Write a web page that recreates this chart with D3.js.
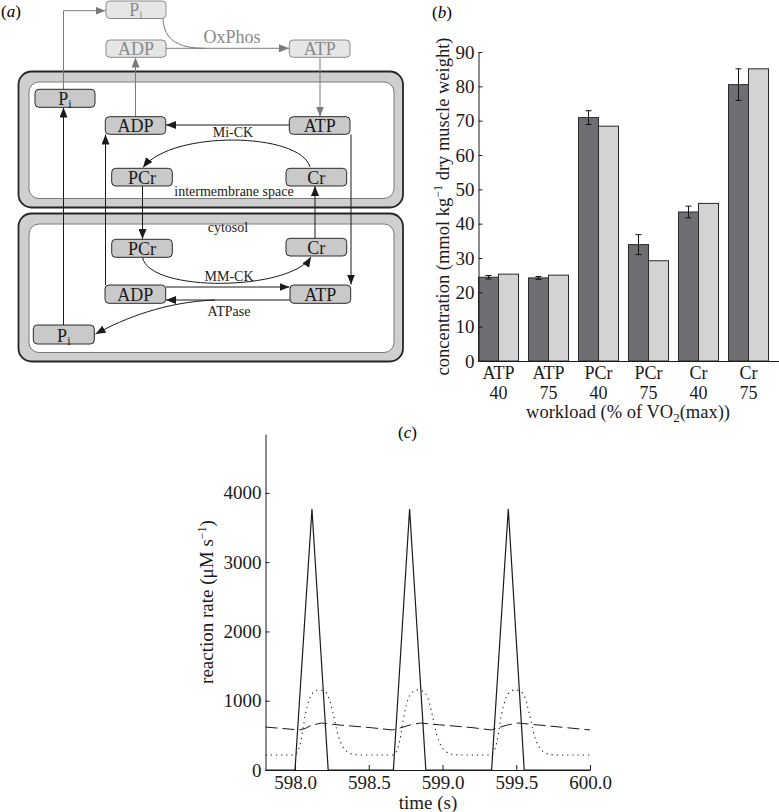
<!DOCTYPE html>
<html>
<head>
<meta charset="utf-8">
<script src="https://cdn.jsdelivr.net/npm/d3@7/dist/d3.min.js"></script>
<style>
  body { margin: 0; background: #fff; }
  svg text { font-family: "Liberation Serif", "Times New Roman", serif; }
</style>
</head>
<body>
<svg id="fig" width="779" height="812"></svg>
<script>
// ---- panel (b): metabolite concentrations ----
const metabolites = ["ATP", "ATP", "PCr", "PCr", "Cr", "Cr"];
const workloads = ["40", "75", "40", "75", "40", "75"];
const measured = [24.4, 24.2, 70.9, 33.9, 43.4, 80.5];
const measuredErr = [0.5, 0.4, 2.0, 2.9, 1.7, 4.6];
const model = [25.3, 25.0, 68.4, 29.2, 45.9, 85.1];
const concTicks = [0, 10, 20, 30, 40, 50, 60, 70, 80, 90];

// ---- panel (c): reaction rates over time ----
const timeTicks = [598.0, 598.5, 599.0, 599.5, 600.0];
const rateTicks = [0, 1000, 2000, 3000, 4000];
const solidTime = [597.8, 598.0, 598.115, 598.225, 598.667, 598.777, 598.887, 599.333, 599.446, 599.554, 600.0];
const solidRate = [0, 0, 3767, 0, 0, 3767, 0, 0, 3767, 0, 0];
const dottedTime = [597.8, 597.99, 598.01, 598.04, 598.07, 598.10, 598.13, 598.16, 598.20, 598.23, 598.26, 598.29, 598.32, 598.35, 598.40, 598.45,
  598.66, 598.68, 598.71, 598.74, 598.77, 598.80, 598.83, 598.87, 598.90, 598.93, 598.96, 598.99, 599.02, 599.07, 599.12,
  599.32, 599.34, 599.37, 599.40, 599.43, 599.46, 599.49, 599.53, 599.56, 599.59, 599.62, 599.65, 599.68, 599.73, 599.78, 600.0];
const dottedRate = [217, 217, 240, 420, 800, 1040, 1130, 1156, 1135, 1040, 800, 520, 350, 270, 225, 217,
  217, 240, 420, 800, 1040, 1130, 1156, 1135, 1040, 800, 520, 350, 270, 225, 217,
  217, 240, 420, 800, 1040, 1130, 1156, 1135, 1040, 800, 520, 350, 270, 225, 217, 217];
const dashedTime = [597.8, 598.03, 598.07, 598.11, 598.18, 598.30, 598.51, 598.66, 598.71, 598.78, 598.85, 598.98, 599.20, 599.33, 599.37, 599.44, 599.51, 599.66, 600.0];
const dashedRate = [620, 578, 600, 645, 678, 650, 612, 578, 605, 650, 678, 652, 612, 578, 605, 650, 678, 648, 578];

const svg = d3.select("#fig");
const defs = svg.append("defs");
const serif = "Liberation Serif, Times New Roman, serif";

function arrowMarker(id, color) {
  defs.append("marker")
    .attr("id", id)
    .attr("viewBox", "0 0 10 8")
    .attr("refX", 10).attr("refY", 4)
    .attr("markerWidth", 10).attr("markerHeight", 8)
    .attr("markerUnits", "userSpaceOnUse")
    .attr("orient", "auto")
    .append("path").attr("d", "M0,0L10,4L0,8Z").attr("fill", color);
}
arrowMarker("arrBlack", "#1a1a1a");
arrowMarker("arrGray", "#7a7a7a");

function serifAxis(g, size) {
  g.attr("color", "#1a1a1a");
  g.selectAll("text").style("font-family", serif).attr("font-size", size).attr("fill", "#1a1a1a");
}

// ================= panel (a) =================
const pa = svg.append("g");

pa.append("text").attr("x", 1).attr("y", 17).attr("font-size", 17)
  .html('(<tspan font-style="italic">a</tspan>)');

// membranes: mitochondrion (top) and cytosol compartment (bottom)
const membranes = [
  { x: 18.5, y: 71.5, w: 384.5, h: 136 },
  { x: 18.5, y: 213.5, w: 384.5, h: 148 }
];
membranes.forEach(m => {
  pa.append("rect").attr("x", m.x).attr("y", m.y).attr("width", m.w).attr("height", m.h)
    .attr("rx", 13).attr("fill", "#cfcfcf").attr("stroke", "#262626").attr("stroke-width", 1.8);
  pa.append("rect").attr("x", m.x + 10.5).attr("y", m.y + 10.5).attr("width", m.w - 19.5).attr("height", m.h - 19.5)
    .attr("rx", 10).attr("fill", "#fff").attr("stroke", "#7a7a7a").attr("stroke-width", 1);
});

const links = [
  { d: "M63.5,89 V10.7 H105.5", c: "gray" },
  { d: "M163,18.5 C164,40 178,48.3 205,48.3", c: "gray", plain: true },
  { d: "M166,48.3 H289", c: "gray" },
  { d: "M135.5,116.5 V57.5", c: "gray" },
  { d: "M320,57.5 V116.5", c: "gray" },
  { d: "M289,125 H166", c: "black" },
  { d: "M310,167 C300,132 172,130 143,167.5", c: "black" },
  { d: "M142.5,186 V239", c: "black" },
  { d: "M315,238 V186", c: "black" },
  { d: "M351,134.5 V284.5", c: "black" },
  { d: "M105.5,285 V134.5", c: "black" },
  { d: "M142.5,257.5 C150,293 290,291 311,257", c: "black" },
  { d: "M166,287 H289.5", c: "black" },
  { d: "M290,300 H166", c: "black" },
  { d: "M215,300 C165,302 125,318 95.5,334", c: "black" },
  { d: "M63.5,325 V107.5", c: "black" }
];
pa.selectAll("path.link").data(links).enter().append("path")
  .attr("class", "link")
  .attr("d", d => d.d)
  .attr("fill", "none")
  .attr("stroke", d => d.c === "gray" ? "#7a7a7a" : "#1a1a1a")
  .attr("stroke-width", 1)
  .attr("marker-end", d => d.plain ? null : (d.c === "gray" ? "url(#arrGray)" : "url(#arrBlack)"));

const nodes = [
  { label: "P", sub: "i", x: 106, y: 1, w: 60, h: 17.5, outside: true },
  { label: "ADP", x: 106, y: 40, w: 60, h: 17.3, outside: true },
  { label: "ATP", x: 289.3, y: 40, w: 60.7, h: 17.3, outside: true },
  { label: "P", sub: "i", x: 35, y: 89.3, w: 60, h: 18 },
  { label: "ADP", x: 105.3, y: 116.7, w: 60.4, h: 17.6 },
  { label: "ATP", x: 289.3, y: 116.7, w: 60.7, h: 17.6 },
  { label: "PCr", x: 111.7, y: 168.3, w: 60.6, h: 17.7 },
  { label: "Cr", x: 286, y: 168.3, w: 60.7, h: 17.7 },
  { label: "PCr", x: 111.7, y: 239.3, w: 60.6, h: 18 },
  { label: "Cr", x: 286, y: 238.3, w: 60.7, h: 17.7 },
  { label: "ADP", x: 105, y: 285, w: 60.7, h: 18.3 },
  { label: "ATP", x: 290, y: 285, w: 60.7, h: 18.3 },
  { label: "P", sub: "i", x: 33.3, y: 325, w: 61, h: 19 }
];
const ng = pa.selectAll("g.node").data(nodes).enter().append("g").attr("class", "node");
ng.append("rect")
  .attr("x", d => d.x).attr("y", d => d.y).attr("width", d => d.w).attr("height", d => d.h)
  .attr("rx", 4)
  .attr("fill", d => d.outside ? "#e6e6e6" : "#c9c9c9")
  .attr("stroke", d => d.outside ? "#8a8a8a" : "#2a2a2a")
  .attr("stroke-width", 1);
ng.append("text")
  .attr("x", d => d.x + d.w / 2).attr("y", d => d.y + d.h - 2.5)
  .attr("text-anchor", "middle").attr("font-size", 18)
  .attr("fill", d => d.outside ? "#8a8a8a" : "#1a1a1a")
  .each(function (d) {
    const t = d3.select(this);
    t.append("tspan").text(d.label);
    if (d.sub) t.append("tspan").attr("font-size", 12).attr("dy", 3).text(d.sub);
  });

const notes = [
  { text: "OxPhos", x: 232, y: 42.5, size: 18, color: "#8a8a8a" },
  { text: "Mi-CK", x: 233, y: 137, size: 14, color: "#1a1a1a" },
  { text: "intermembrane space", x: 234, y: 196, size: 14, color: "#1a1a1a" },
  { text: "cytosol", x: 228, y: 232, size: 14, color: "#1a1a1a" },
  { text: "MM-CK", x: 229, y: 280.5, size: 14, color: "#1a1a1a" },
  { text: "ATPase", x: 229, y: 316, size: 14, color: "#1a1a1a" }
];
pa.selectAll("text.note").data(notes).enter().append("text")
  .attr("class", "note")
  .attr("x", d => d.x).attr("y", d => d.y)
  .attr("text-anchor", "middle")
  .attr("font-size", d => d.size)
  .attr("fill", d => d.color)
  .text(d => d.text);

// ================= panel (b) =================
const pb = svg.append("g");
pb.append("text").attr("x", 432).attr("y", 18).attr("font-size", 17)
  .html('(<tspan font-style="italic">b</tspan>)');

const categories = metabolites.map((m, i) => m + " " + workloads[i]);
const xB = d3.scaleBand().domain(categories).range([478.5, 768.5]).paddingInner(0.2).paddingOuter(0);
const yB = d3.scaleLinear().domain([0, 90]).range([361, 52]);
const half = xB.bandwidth() / 2;

const bars = pb.append("g");
bars.selectAll("rect.meas").data(categories).enter().append("rect")
  .attr("x", d => xB(d)).attr("y", (d, i) => yB(measured[i]))
  .attr("width", half).attr("height", (d, i) => yB(0) - yB(measured[i]))
  .attr("fill", "#6e6e73").attr("stroke", "#2a2a2a").attr("stroke-width", 1);
bars.selectAll("rect.model").data(categories).enter().append("rect")
  .attr("x", d => xB(d) + half).attr("y", (d, i) => yB(model[i]))
  .attr("width", half).attr("height", (d, i) => yB(0) - yB(model[i]))
  .attr("fill", "#d3d3d5").attr("stroke", "#2a2a2a").attr("stroke-width", 1);

const errG = bars.selectAll("g.err").data(categories).enter().append("g")
  .attr("stroke", "#111").attr("stroke-width", 1);
errG.append("line")
  .attr("x1", d => xB(d) + half / 2).attr("x2", d => xB(d) + half / 2)
  .attr("y1", (d, i) => yB(measured[i] - measuredErr[i])).attr("y2", (d, i) => yB(measured[i] + measuredErr[i]));
[-1, 1].forEach(s => {
  errG.append("line")
    .attr("x1", d => xB(d) + half / 2 - 3).attr("x2", d => xB(d) + half / 2 + 3)
    .attr("y1", (d, i) => yB(measured[i] + s * measuredErr[i]))
    .attr("y2", (d, i) => yB(measured[i] + s * measuredErr[i]));
});

pb.append("g").attr("transform", "translate(478.5,0)")
  .call(d3.axisLeft(yB).tickValues(concTicks).tickFormat(d3.format("d")).tickSize(-4).tickSizeOuter(0).tickPadding(4))
  .call(serifAxis, 19);

pb.append("line").attr("x1", 478.5).attr("x2", 779).attr("y1", 361.5).attr("y2", 361.5)
  .attr("stroke", "#1a1a1a").attr("stroke-width", 1);

const xLab = pb.selectAll("text.cat").data(categories).enter().append("text")
  .attr("class", "cat").attr("text-anchor", "middle").attr("font-size", 18).attr("fill", "#1a1a1a");
xLab.append("tspan").attr("x", d => xB(d) + xB.bandwidth() / 2).attr("y", 379).text((d, i) => metabolites[i]);
xLab.append("tspan").attr("x", d => xB(d) + xB.bandwidth() / 2).attr("y", 399).text((d, i) => workloads[i]);

pb.append("text").attr("x", 628).attr("y", 418).attr("text-anchor", "middle")
  .attr("font-size", 18.5).attr("fill", "#1a1a1a")
  .html('workload (% of VO<tspan font-size="13" dy="4">2</tspan><tspan dy="-4">(max))</tspan>');

pb.append("text")
  .attr("transform", "translate(443," + ((52 + 361) / 2) + ") rotate(-90)")
  .attr("text-anchor", "middle").attr("dy", "0.35em")
  .attr("font-size", 18.5).attr("fill", "#1a1a1a")
  .html('concentration (mmol kg<tspan font-size="12" dy="-7">\u22121</tspan><tspan dy="7"> dry muscle weight)</tspan>');

// ================= panel (c) =================
const pc = svg.append("g");
pc.append("text").attr("x", 398).attr("y", 438).attr("font-size", 17)
  .html('(<tspan font-style="italic">c</tspan>)');

const xC = d3.scaleLinear().domain([597.8, 600.0]).range([265.5, 590]);
const yC = d3.scaleLinear().domain([0, 4850]).range([770, 434]);

pc.append("g").attr("transform", "translate(265.5,0)")
  .call(d3.axisLeft(yC).tickValues(rateTicks).tickFormat(d3.format("d")).tickSize(-4).tickSizeOuter(0).tickPadding(4))
  .call(serifAxis, 19);

pc.append("g").attr("transform", "translate(0,770)")
  .call(d3.axisBottom(xC).tickValues(timeTicks).tickFormat(d3.format(".1f")).tickSize(-5).tickSizeOuter(0).tickPadding(6))
  .call(serifAxis, 19);

const lineC = d3.line().x(d => xC(d[0])).y(d => yC(d[1]));
pc.append("path")
  .attr("d", lineC(dashedTime.map((t, i) => [t, dashedRate[i]])))
  .attr("fill", "none").attr("stroke", "#1a1a1a").attr("stroke-width", 1)
  .attr("stroke-dasharray", "12,5");
pc.append("path")
  .attr("d", d3.line().x(d => xC(d[0])).y(d => yC(d[1])).curve(d3.curveMonotoneX)(dottedTime.map((t, i) => [t, dottedRate[i]])))
  .attr("fill", "none").attr("stroke", "#1a1a1a").attr("stroke-width", 1.1)
  .attr("stroke-dasharray", "1.2,4");
pc.append("path")
  .attr("d", lineC(solidTime.map((t, i) => [t, solidRate[i]])))
  .attr("fill", "none").attr("stroke", "#1a1a1a").attr("stroke-width", 1.2);

pc.append("text").attr("x", 428).attr("y", 809).attr("text-anchor", "middle")
  .attr("font-size", 19).attr("fill", "#1a1a1a").text("time (s)");

pc.append("text")
  .attr("transform", "translate(206," + ((434 + 770) / 2) + ") rotate(-90)")
  .attr("text-anchor", "middle").attr("dy", "0.35em")
  .attr("font-size", 19).attr("fill", "#1a1a1a")
  .html('reaction rate (\u03bcM s<tspan font-size="12" dy="-7">\u22121</tspan><tspan dy="7">)</tspan>');
</script>
</body>
</html>
